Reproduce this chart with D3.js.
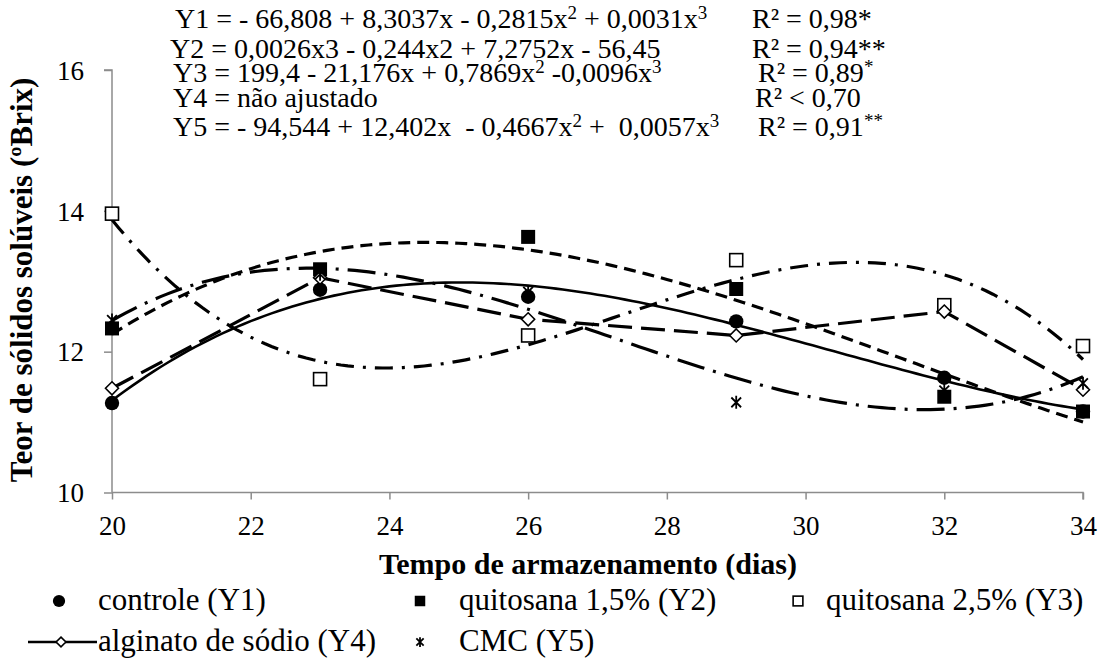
<!DOCTYPE html>
<html><head><meta charset="utf-8">
<script src="https://cdn.jsdelivr.net/npm/d3@7"></script>
<style>body{margin:0;background:#fff}</style>
</head><body><svg id="c" width="1102" height="659"></svg>
<script>
// ---- data ----
const days = [20, 23, 26, 29, 32, 34];
const controle = [11.27, 12.88, 12.78, 12.43, 11.63, 11.15];
const quitosana15 = [12.33, 13.17, 13.63, 12.89, 11.36, 11.15];
const quitosana25 = [13.96, 11.61, 12.23, 13.30, 12.66, 12.08];
const alginato = [11.48, 13.05, 12.46, 12.23, 12.57, 11.46];
const cmc = [12.45, 13.10, 12.85, 11.28, 11.45, 11.55];
const xTicks = [20, 22, 24, 26, 28, 30, 32, 34];
const yTicks = [10, 12, 14, 16];
const seriesNames = ["controle (Y1)", "quitosana 1,5% (Y2)", "quitosana 2,5% (Y3)", "alginato de sódio (Y4)", "CMC (Y5)"];
const xTitle = "Tempo de armazenamento (dias)";
const yTitle = "Teor de sólidos solúveis (ºBrix)";

const FONT = '"Liberation Serif", "Times New Roman", Tinos, serif';
const svg = d3.select("#c");
const m = {l: 112, r: 1083, t: 70, b: 492.5};
const x = d3.scaleLinear().domain([20, 34]).range([m.l, m.r]);
const y = d3.scaleLinear().domain([10, 16]).range([m.b, m.t]);

// cubic least squares trendline (as the spreadsheet trendline)
function polyfit(xs, ys, deg) {
  const n = deg + 1, c = 27;
  const A = Array.from({length: n}, () => new Array(n).fill(0));
  const b = new Array(n).fill(0);
  xs.forEach((xv, k) => {
    const t = xv - c;
    for (let i = 0; i < n; i++) {
      b[i] += ys[k] * Math.pow(t, i);
      for (let j = 0; j < n; j++) A[i][j] += Math.pow(t, i + j);
    }
  });
  for (let i = 0; i < n; i++) {
    let p = i;
    for (let r = i + 1; r < n; r++) if (Math.abs(A[r][i]) > Math.abs(A[p][i])) p = r;
    [A[i], A[p]] = [A[p], A[i]]; [b[i], b[p]] = [b[p], b[i]];
    for (let r = i + 1; r < n; r++) {
      const f = A[r][i] / A[i][i];
      for (let cc = i; cc < n; cc++) A[r][cc] -= f * A[i][cc];
      b[r] -= f * b[i];
    }
  }
  const co = new Array(n).fill(0);
  for (let i = n - 1; i >= 0; i--) {
    let s = b[i];
    for (let j = i + 1; j < n; j++) s -= A[i][j] * co[j];
    co[i] = s / A[i][i];
  }
  return xv => co.reduce((s, cf, i) => s + cf * Math.pow(xv - c, i), 0);
}

const series = [
  {vals: controle, marker: "circle", dash: null, fit: true},
  {vals: quitosana15, marker: "fsquare", dash: "12,7", fit: true},
  {vals: quitosana25, marker: "osquare", dash: "18,9,3,9", fit: true},
  {vals: alginato, marker: "diamond", dash: "24,9", fit: false},
  {vals: cmc, marker: "star", dash: "28,9,3,9", fit: true}
];

// axes
const axisColor = "#8c8c8c";
const gy = svg.append("g").attr("transform", `translate(${m.l},0)`)
  .call(d3.axisLeft(y).tickValues(yTicks).tickSize(8).tickPadding(20).tickFormat(d3.format("d")));
const gx = svg.append("g").attr("transform", `translate(0,${m.b})`)
  .call(d3.axisBottom(x).tickValues(xTicks).tickSize(7).tickPadding(16).tickFormat(d3.format("d")));
[gx, gy].forEach(g => {
  g.select(".domain").attr("stroke", axisColor).attr("stroke-width", 1.5);
  g.selectAll(".tick line").attr("stroke", axisColor).attr("stroke-width", 1.5);
  g.selectAll(".tick text").attr("font-size", 27).style("font-family", FONT).attr("fill", "#000");
});
gy.selectAll(".tick text").attr("dy", "0.34em");
gy.select(".domain").attr("d", `M-8,${m.t}H0V${m.b}`);
gx.select(".domain").attr("d", `M${m.l},0H${m.r}V7`);

// lines
const lineGen = d3.line().x(d => x(d[0])).y(d => y(d[1]));
series.forEach(s => {
  let pts;
  if (s.fit) {
    const f = polyfit(days, s.vals, 3);
    pts = d3.range(20, 34.001, 0.1).map(t => [t, f(t)]);
  } else {
    pts = days.map((d, i) => [d, s.vals[i]]);
  }
  svg.append("path").attr("d", lineGen(pts)).attr("fill", "none")
    .attr("stroke", "#000").attr("stroke-width", s.dash ? 3.2 : 2.6)
    .attr("stroke-dasharray", s.dash).attr("stroke-linecap", "butt");
});

function drawMarker(g, type, cx, cy, sc) {
  sc = sc || 1;
  if (type === "circle") g.append("circle").attr("cx", cx).attr("cy", cy).attr("r", 7.2 * sc).attr("fill", "#000");
  else if (type === "fsquare") g.append("rect").attr("x", cx - 7 * sc).attr("y", cy - 7 * sc).attr("width", 14 * sc).attr("height", 14 * sc).attr("fill", "#000");
  else if (type === "osquare") g.append("rect").attr("x", cx - 6.5 * sc).attr("y", cy - 6.5 * sc).attr("width", 13 * sc).attr("height", 13 * sc).attr("fill", "#fff").attr("stroke", "#000").attr("stroke-width", 1.6);
  else if (type === "diamond") g.append("path").attr("d", `M${cx},${cy - 6.5 * sc}L${cx + 6.5 * sc},${cy}L${cx},${cy + 6.5 * sc}L${cx - 6.5 * sc},${cy}Z`).attr("fill", "#fff").attr("stroke", "#000").attr("stroke-width", 1.6);
  else if (type === "star") {
    const r = 6.5 * sc;
    g.append("path").attr("d", `M${cx - r * 0.75},${cy - r * 0.75}L${cx + r * 0.75},${cy + r * 0.75}M${cx + r * 0.75},${cy - r * 0.75}L${cx - r * 0.75},${cy + r * 0.75}M${cx},${cy - r}V${cy + r}`)
      .attr("stroke", "#000").attr("stroke-width", 1.8).attr("fill", "none");
  }
}
series.forEach(s => {
  const g = svg.append("g");
  days.forEach((d, i) => drawMarker(g, s.marker, x(d), y(s.vals[i])));
});

// axis titles
svg.append("text").attr("x", 588).attr("y", 574).attr("text-anchor", "middle").style("font-family", FONT)
  .attr("font-size", 30).attr("font-weight", "bold").text(xTitle);
svg.append("text").attr("transform", "translate(32,280) rotate(-90)").attr("text-anchor", "middle").style("font-family", FONT)
  .attr("font-size", 31).attr("font-weight", "bold").text(yTitle);

// equations
const eqs = [
  {x: 175, y: 28, parts: [["Y1 = - 66,808 + 8,3037x - 0,2815x"], ["2", 1], [" + 0,0031x"], ["3", 1]], r: {x: 752, parts: [["R² = 0,98*"]]}},
  {x: 170, y: 58, parts: [["Y2 = 0,0026x3 - 0,244x2 + 7,2752x - 56,45"]], r: {x: 752, parts: [["R² = 0,94**"]]}},
  {x: 173, y: 82, parts: [["Y3 = 199,4 - 21,176x + 0,7869x"], ["2", 1], [" -0,0096x"], ["3", 1]], r: {x: 758, parts: [["R² = 0,89"], ["*", 1]]}},
  {x: 173, y: 107, parts: [["Y4 = não ajustado"]], r: {x: 755, parts: [["R² < 0,70"]]}},
  {x: 173, y: 136, parts: [["Y5 = - 94,544 + 12,402x  - 0,4667x"], ["2", 1], [" +  0,0057x"], ["3", 1]], r: {x: 758, parts: [["R² = 0,91"], ["**", 1]]}}
];
function writeParts(t, parts) {
  let up = false;
  parts.forEach(p => {
    const ts = t.append("tspan").text(p[0]);
    if (p[1]) { ts.attr("font-size", 19).attr("dy", -9); up = true; }
    else if (up) { ts.attr("dy", 9); up = false; }
  });
}
eqs.forEach(e => {
  const t = svg.append("text").attr("x", e.x).attr("y", e.y).attr("font-size", 28).style("font-family", FONT).style("white-space", "pre");
  writeParts(t, e.parts);
  const t2 = svg.append("text").attr("x", e.r.x).attr("y", e.y).attr("font-size", 28).style("font-family", FONT).style("white-space", "pre");
  writeParts(t2, e.r.parts);
});

// legend
const leg = [
  {mk: "circle", mx: 59, tx: 98, y: 601},
  {mk: "fsquare", mx: 420, tx: 459, y: 601},
  {mk: "osquare", mx: 798, tx: 826, y: 601},
  {mk: "diamond", mx: 61, tx: 98, y: 642, line: true},
  {mk: "star", mx: 420, tx: 459, y: 642}
];
leg.forEach((l, i) => {
  const g = svg.append("g");
  if (l.line) g.append("line").attr("x1", 28).attr("x2", 97).attr("y1", l.y).attr("y2", l.y).attr("stroke", "#000").attr("stroke-width", 2.6);
  drawMarker(g, l.mk, l.mx, l.y, l.mk === "circle" ? 0.85 : 0.75);
  svg.append("text").attr("x", l.tx).attr("y", l.y + 9).attr("font-size", 31).style("font-family", FONT).text(seriesNames[i]);
});
</script>
</body></html>
